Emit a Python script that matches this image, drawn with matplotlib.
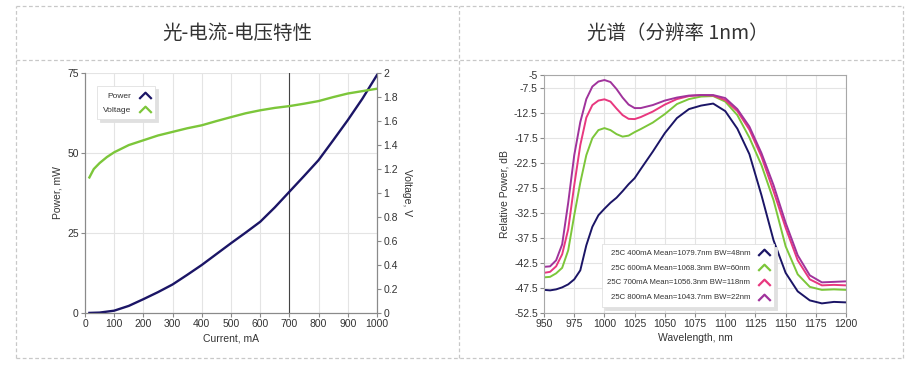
import matplotlib
matplotlib.use("Agg")
import matplotlib.pyplot as plt
from matplotlib.lines import Line2D
from matplotlib.path import Path
import numpy as np

plt.rcParams['font.family'] = ['Liberation Sans Narrow', 'Liberation Sans', 'DejaVu Sans']

# --- data: light-current-voltage ---
cur_p = [15, 50, 100, 150, 200, 250, 300, 350, 400, 450, 500, 550, 600, 650, 700, 750, 800, 850, 900, 950, 1000]
power = [0, 0.1, 0.7, 2.2, 4.3, 6.5, 8.9, 11.9, 15, 18.4, 21.8, 25.1, 28.5, 33, 37.9, 42.8, 47.8, 54, 60.3, 67, 74.4]
cur_v = [15, 30, 50, 75, 100, 150, 200, 250, 300, 350, 400, 450, 500, 550, 600, 650, 700, 750, 800, 850, 900, 950, 1000]
volt = [1.13, 1.2, 1.25, 1.30, 1.34, 1.40, 1.44, 1.48, 1.51, 1.54, 1.565, 1.60, 1.633, 1.665, 1.69, 1.71, 1.725, 1.745,
        1.767, 1.80, 1.83, 1.85, 1.87]
marker_current = 700
volt_ticks = [0, 0.2, 0.4, 0.6, 0.8, 1, 1.2, 1.4, 1.6, 1.8, 2]

# --- data: spectra ---
wl = [950, 955, 960, 965, 970, 975, 980, 985, 990, 995, 1000, 1005, 1010, 1015, 1020, 1025, 1030, 1040, 1050,
      1060, 1070, 1080, 1090, 1100, 1110, 1120, 1130, 1140, 1150, 1160, 1170, 1180, 1190, 1200]
s400 = [-47.9, -48.0, -47.8, -47.4, -46.8, -45.8, -44.0, -39.0, -35.3, -33.0, -31.7, -30.5, -29.5, -28.2, -26.8,
        -25.6, -23.8, -20.3, -16.6, -13.6, -11.8, -11.1, -10.7, -12.2, -15.7, -20.8, -29.0, -38.0, -44.5, -48.2,
        -50.0, -50.6, -50.3, -50.4]
s600 = [-45.4, -45.3, -44.6, -43.5, -40.0, -33.0, -26.5, -21.0, -17.6, -16.0, -15.6, -16.0, -16.8, -17.3, -17.1,
        -16.4, -15.8, -14.5, -12.8, -10.8, -9.8, -9.3, -9.2, -10.3, -13.0, -17.5, -23.0, -30.0, -39.2, -44.8,
        -47.3, -47.9, -47.8, -47.9]
s700 = [-44.5, -44.3, -43.2, -40.8, -35.8, -27.0, -19.0, -13.5, -11.0, -10.1, -9.85, -10.3, -11.7, -13.0, -13.75,
        -13.8, -13.4, -12.3, -10.9, -9.8, -9.2, -9.0, -9.1, -10.0, -12.2, -15.9, -21.3, -28.2, -35.5, -42.0,
        -45.8, -47.0, -46.9, -47.0]
s800 = [-43.3, -43.2, -42.0, -38.8, -30.5, -21.0, -14.4, -9.8, -7.3, -6.3, -6.0, -6.4, -7.8, -9.5, -10.9,
        -11.6, -11.6, -11.0, -10.1, -9.5, -9.1, -9.0, -9.0, -9.6, -11.8, -15.3, -20.6, -27.0, -34.5, -41.0,
        -45.0, -46.4, -46.3, -46.2]
spec_labels = ["25C 400mA Mean=1079.7nm BW=48nm", "25C 600mA Mean=1068.3nm BW=60nm",
               "25C 700mA Mean=1056.3nm BW=118nm", "25C 800mA Mean=1043.7nm BW=22nm"]
db_ticks = [-5, -7.5, -12.5, -17.5, -22.5, -27.5, -32.5, -37.5, -42.5, -47.5, -52.5]

navy = '#1b1566'
green = '#7cc63a'
pink = '#e8387f'
purple = '#a0339c'
txt = '#333333'
cjk = ['Noto Sans CJK SC', 'DejaVu Sans']

chevron = Path([(-1, -0.55), (0, 0.45), (1, -0.55)], [Path.MOVETO, Path.LINETO, Path.LINETO])


def chev(c):
    return Line2D([], [], color=c, marker=chevron, markersize=9, markeredgewidth=1.6,
                  markerfacecolor='none', linestyle='none')


fig = plt.figure(figsize=(9.19, 3.77), dpi=100)

# table frame
bc = '#c8c8c8'
x0, x1, xm = 16 / 919, 903 / 919, 459 / 919
yt, yh, yb = 1 - 6 / 377, 1 - 60 / 377, 1 - 358 / 377
for xs, ys in [([x0, x1], [yt, yt]), ([x0, x1], [yh, yh]), ([x0, x1], [yb, yb]),
               ([x0, x0], [yb, yt]), ([x1, x1], [yb, yt]), ([xm, xm], [yb, yt])]:
    fig.add_artist(Line2D(xs, ys, color=bc, lw=0.9, ls=(0, (3, 2)), transform=fig.transFigure))

fig.text(0.258, 0.912, "光-电流-电压特性", ha='center', va='center', fontsize=14, color=txt, family=cjk)
fig.text(0.738, 0.912, "光谱（分辨率 1nm）", ha='center', va='center', fontsize=14, color=txt, family=cjk)

# ---- left chart ----
ax1 = fig.add_axes([0.0925, 0.170, 0.3177, 0.636])
ax1.plot(cur_p, power, color=navy, lw=1.7, zorder=3)
ax1.set_xlim(0, 1000)
ax1.set_ylim(0, 75)
ax1.set_xticks(range(0, 1001, 100))
ax1.set_yticks([0, 25, 50, 75])
ax1.grid(color='#e4e4e4', lw=0.8)
ax1.axvline(marker_current, color='#444444', lw=0.8, zorder=2)
ax1.set_xlabel("Current, mA", fontsize=7.5, color=txt, labelpad=3)
ax1.set_ylabel("Power, mW", fontsize=7.5, color=txt, labelpad=3)

ax2 = ax1.twinx()
ax2.plot(cur_v, volt, color=green, lw=1.7)
ax2.set_ylim(0, 2)
ax2.set_yticks(volt_ticks, labels=[f'{v:g}' for v in volt_ticks])
ax2.set_ylabel("Voltage, V", fontsize=7.5, color=txt, rotation=270, labelpad=10)

for a in (ax1, ax2):
    a.spines['top'].set_visible(False)
    for s in ('left', 'right', 'bottom'):
        a.spines[s].set_color('#8a8a8a')
    a.tick_params(labelsize=7.5, labelcolor=txt, color='#8a8a8a', length=3, pad=1.5)

leg1 = ax2.legend([chev(navy), chev(green)], ["Power", "Voltage"], loc='upper left',
                  bbox_to_anchor=(93 / 919, 1 - 82 / 377), bbox_transform=fig.transFigure,
                  markerfirst=False, fontsize=6, frameon=True, fancybox=False, handlelength=1.2,
                  handletextpad=1.0, borderpad=0.7, labelspacing=0.7, edgecolor='#e0e0e0',
                  shadow={'color': '0.88', 'alpha': 1})
leg1.get_frame().set_linewidth(0.6)
for t in leg1.get_texts():
    t.set_color(txt)

# ---- right chart ----
ax3 = fig.add_axes([0.592, 0.170, 0.3286, 0.631])
for ys, c in [(s400, navy), (s600, green), (s700, pink), (s800, purple)]:
    ax3.plot(wl, ys, color=c, lw=1.4)
ax3.set_xlim(950, 1200)
ax3.set_ylim(-52.5, -5)
ax3.set_xticks(range(950, 1201, 25))
ax3.set_yticks(db_ticks, labels=[f'{v:g}' for v in db_ticks])
ax3.grid(color='#e4e4e4', lw=0.8)
ax3.set_axisbelow(True)
for s in ax3.spines.values():
    s.set_color('#a8a8a8')
ax3.tick_params(labelsize=7.5, labelcolor=txt, color='#8a8a8a', length=3, pad=1.5)
ax3.set_xlabel("Wavelength, nm", fontsize=7.5, color=txt, labelpad=3)
ax3.set_ylabel("Relative Power, dB", fontsize=7.5, color=txt, labelpad=3)

leg2 = ax3.legend([chev(navy), chev(green), chev(pink), chev(purple)], spec_labels, loc='upper left',
                  bbox_to_anchor=(598 / 919, 1 - 240 / 377), bbox_transform=fig.transFigure,
                  markerfirst=False, fontsize=5.6, frameon=True, fancybox=False, handlelength=1.2,
                  handletextpad=1.2, borderpad=0.7, labelspacing=0.95, edgecolor='#e0e0e0',
                  shadow={'color': '0.88', 'alpha': 1})
leg2.get_frame().set_linewidth(0.6)
for t in leg2.get_texts():
    t.set_color(txt)

fig.savefig("out.png", dpi=100)
